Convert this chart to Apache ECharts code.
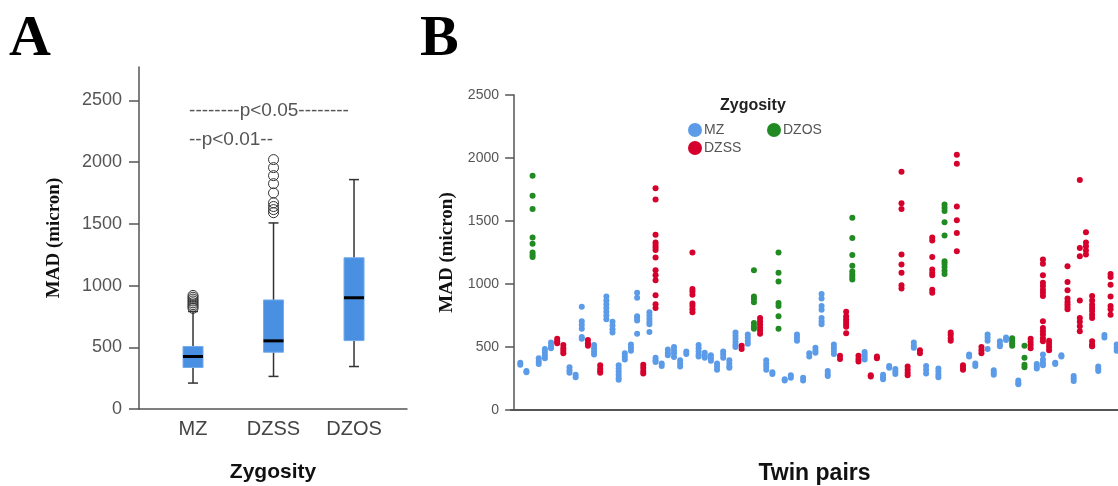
<!DOCTYPE html>
<html>
<head>
<meta charset="utf-8">
<title>MAD by zygosity</title>
<script src="https://cdn.jsdelivr.net/npm/echarts@6.0.0/dist/echarts.min.js"></script>
<style>
  html, body { margin: 0; padding: 0; background: #fff; }
  #chart { width: 1118px; height: 486px; }
</style>
</head>
<body>
<div id="chart"></div>
<script>
// panel A: box summary per zygosity group
const zygosity = ['MZ', 'DZSS', 'DZOS']
const boxMin = [210, 264, 344]
const boxQ1 = [336, 460, 554]
const boxMedian = [425, 552, 901]
const boxQ3 = [506, 883, 1225]
const boxMax = [790, 1507, 1858]
const outliersMZ = [815, 830, 845, 860, 875, 890, 905, 920]
const outliersDZSS = [1590, 1615, 1640, 1670, 1750, 1825, 1890, 1955, 2020]
const yTicksA = [0, 500, 1000, 1500, 2000, 2500]

// panel B: [twin pair index, MAD values]
const mzPairs = [
  [1, [375, 360]], [2, [310, 300]], [4, [410, 385, 365]], [5, [485, 460, 435, 410]],
  [6, [535, 510, 490]], [9, [340, 315, 295]], [10, [280, 260]],
  [11, [820, 705, 675, 645, 580, 565]], [13, [515, 490, 465, 440]],
  [15, [900, 870, 840, 810, 780, 750, 720]], [16, [700, 670, 640, 615]],
  [17, [355, 330, 305, 280, 255, 240]], [18, [450, 425, 400]], [19, [520, 495, 470]],
  [20, [930, 890, 745, 730, 710, 605]], [22, [775, 750, 725, 700, 680, 620]],
  [23, [415, 395, 380]], [24, [370, 350]], [25, [480, 455, 435]], [26, [500, 475, 450, 420]],
  [27, [395, 370, 345]], [28, [465, 445]], [30, [515, 490, 465, 440, 425]],
  [31, [455, 430, 415]], [32, [435, 410, 390]], [33, [370, 345, 320]], [34, [465, 440, 415]],
  [35, [395, 370, 345, 335]], [36, [615, 590, 565, 540, 515, 500]], [38, [600, 575, 550, 525]],
  [41, [395, 370, 345, 320]], [42, [300, 285]], [44, [245, 235]], [45, [275, 255]],
  [46, [600, 575, 550]], [47, [255, 235]], [48, [450, 425]], [49, [495, 470, 455]],
  [50, [920, 885, 825, 795, 730, 705, 680]], [51, [310, 285, 270]], [52, [520, 495, 470, 445]],
  [57, [460, 440, 420, 400]], [60, [280, 260, 245]], [61, [350, 335]], [62, [325, 305, 285]],
  [65, [535, 510, 495]], [67, [350, 320, 290]], [69, [330, 305, 280, 260]], [74, [440, 425]],
  [75, [370, 350]], [77, [600, 575, 550, 485]], [78, [315, 295, 280]], [79, [545, 520, 505]],
  [80, [575, 555]], [82, [235, 215, 205]], [85, [365, 345, 330]], [86, [440, 400, 375, 355]],
  [88, [375, 365]], [89, [435, 425]], [91, [270, 250, 230]], [94, [505]], [95, [345, 325, 310]],
  [96, [595, 575]], [98, [520, 495, 470]]
]
const dzssPairs = [
  [7, [565, 545, 530]], [8, [515, 490, 470, 450]], [12, [555, 530, 510]],
  [14, [355, 330, 310, 295]], [21, [360, 335, 310, 290]],
  [23, [1760, 1670, 1390, 1330, 1310, 1290, 1270, 1210, 1110, 1070, 1030, 910, 840, 810]],
  [29, [1250, 960, 940, 915, 845, 825, 800, 775]], [37, [510, 485]],
  [40, [730, 705, 680, 655, 630, 605]], [53, [430, 405]],
  [54, [780, 745, 720, 700, 680, 660, 610]], [56, [430, 405, 385]], [58, [275, 265]],
  [59, [425, 410]], [63, [1890, 1640, 1595, 1235, 1155, 1090, 990, 965]],
  [64, [345, 320, 295, 275]], [66, [475, 450]],
  [68, [1370, 1345, 1215, 1115, 1090, 1070, 955, 930]], [71, [615, 595, 570, 550]],
  [72, [2025, 1955, 1615, 1505, 1405, 1260]], [73, [355, 335, 320]], [76, [500, 475, 450]],
  [84, [565, 540, 515, 490]],
  [86, [1195, 1160, 1070, 1010, 985, 955, 930, 905, 705, 650, 625, 600, 570, 545]],
  [87, [550, 525, 500, 475]], [90, [1140, 1015, 950, 885, 860, 840, 820, 800]],
  [92, [1825, 1285, 1220, 870, 730, 700, 665, 625]], [93, [1410, 1330, 1300, 1265, 1235]],
  [94, [905, 870, 835, 810, 785, 755, 730, 545, 520, 505]],
  [97, [1080, 1055, 995, 900, 825, 800, 755]]
]
const dzosPairs = [
  [3, [1860, 1700, 1595, 1370, 1320, 1250, 1230, 1215]],
  [39, [1110, 900, 880, 855, 690, 665, 645]],
  [43, [1250, 1090, 1020, 850, 825, 745, 645]],
  [55, [1525, 1365, 1230, 1145, 1100, 1075, 1055, 1035]],
  [70, [1630, 1605, 1580, 1490, 1385, 1180, 1160, 1135, 1105, 1080]],
  [81, [570, 550, 530, 510]],
  [83, [510, 415, 360, 340]]
]

const sans = "'Liberation Sans', Arial, Helvetica, sans-serif"
const serif = "'Liberation Serif', 'Times New Roman', serif"
const axisGrey = '#555'

// flatten pairs into [pair, value] points
function toPoints(pairs) {
  const pts = []
  pairs.forEach(p => p[1].forEach(v => pts.push([p[0], v])))
  return pts
}

const boxData = zygosity.map((z, i) => [i + 1, boxMin[i], boxQ1[i], boxMedian[i], boxQ3[i], boxMax[i]])
const outlierData = outliersMZ.map(v => [1, v]).concat(outliersDZSS.map(v => [2, v]))

function renderBox(params, api) {
  const x = api.value(0)
  const pMin = api.coord([x, api.value(1)])
  const pQ1 = api.coord([x, api.value(2)])
  const pMed = api.coord([x, api.value(3)])
  const pQ3 = api.coord([x, api.value(4)])
  const pMax = api.coord([x, api.value(5)])
  const cx = pMin[0]
  const hw = 10
  const cw = 5
  const whisk = { stroke: '#333', lineWidth: 1.5 }
  return {
    type: 'group',
    children: [
      { type: 'line', shape: { x1: cx, y1: pMin[1], x2: cx, y2: pQ1[1] }, style: whisk },
      { type: 'line', shape: { x1: cx, y1: pQ3[1], x2: cx, y2: pMax[1] }, style: whisk },
      { type: 'line', shape: { x1: cx - cw, y1: pMin[1], x2: cx + cw, y2: pMin[1] }, style: whisk },
      { type: 'line', shape: { x1: cx - cw, y1: pMax[1], x2: cx + cw, y2: pMax[1] }, style: whisk },
      {
        type: 'rect',
        shape: { x: cx - hw, y: pQ3[1], width: hw * 2, height: pQ1[1] - pQ3[1] },
        style: { fill: '#4a90e2', stroke: '#73abec', lineWidth: 1 }
      },
      { type: 'line', shape: { x1: cx - hw, y1: pMed[1], x2: cx + hw, y2: pMed[1] }, style: { stroke: '#000', lineWidth: 3 } }
    ]
  }
}

const plainNumber = v => String(v)

const option = {
  animation: false,
  backgroundColor: '#fff',
  title: [
    { text: 'A', left: 9, top: 11, padding: 0, textStyle: { fontFamily: serif, fontWeight: 'bold', fontSize: 58, color: '#000' } },
    { text: 'B', left: 420, top: 11, padding: 0, textStyle: { fontFamily: serif, fontWeight: 'bold', fontSize: 58, color: '#000' } },
    { text: 'Zygosity', left: 720, top: 98, padding: 0, textStyle: { fontFamily: sans, fontWeight: 'bold', fontSize: 16, color: '#222' } }
  ],
  legend: [
    {
      data: ['MZ', 'DZSS'], orient: 'vertical', left: 688, top: 123, padding: 0,
      itemWidth: 14, itemHeight: 14, itemGap: 4, icon: 'circle', selectedMode: false,
      textStyle: { fontFamily: sans, fontSize: 14, color: '#555', padding: [0, 0, 0, -3] }
    },
    {
      data: ['DZOS'], orient: 'vertical', left: 767, top: 123, padding: 0,
      itemWidth: 14, itemHeight: 14, icon: 'circle', selectedMode: false,
      textStyle: { fontFamily: sans, fontSize: 14, color: '#555', padding: [0, 0, 0, -3] }
    }
  ],
  graphic: [
    {
      type: 'text', x: 269, y: 111,
      style: { text: '--------p<0.05--------', font: '19px ' + sans, fill: '#555', align: 'center', verticalAlign: 'middle', textAlign: 'center', textVerticalAlign: 'middle' }
    },
    {
      type: 'text', x: 231, y: 140,
      style: { text: '--p<0.01--', font: '19px ' + sans, fill: '#555', align: 'center', verticalAlign: 'middle', textAlign: 'center', textVerticalAlign: 'middle' }
    }
  ],
  grid: [
    { left: 139, right: 711, top: 67, bottom: 77, outerBoundsMode: 'none' },
    { left: 511, right: 0, top: 95, bottom: 76, outerBoundsMode: 'none' }
  ],
  xAxis: [
    {
      gridIndex: 0, type: 'value', min: 0.329, max: 3.658,
      axisLine: { lineStyle: { color: axisGrey, width: 1.5 } },
      axisTick: { show: false },
      splitLine: { show: false },
      axisLabel: {
        customValues: [1, 2, 3],
        formatter: v => zygosity[Math.round(v) - 1],
        fontFamily: sans, fontSize: 20, color: '#444', margin: 10
      },
      name: 'Zygosity', nameLocation: 'middle', nameGap: 53,
      nameTextStyle: { fontFamily: sans, fontWeight: 'bold', fontSize: 21, color: '#111' }
    },
    {
      gridIndex: 1, type: 'value', min: -0.51, max: 98.21,
      axisLine: { lineStyle: { color: axisGrey, width: 2 } },
      axisTick: { show: false },
      axisLabel: { show: false },
      splitLine: { show: false },
      name: 'Twin pairs', nameLocation: 'middle', nameGap: 52,
      nameTextStyle: { fontFamily: sans, fontWeight: 'bold', fontSize: 23, color: '#111' }
    }
  ],
  yAxis: [
    {
      gridIndex: 0, type: 'value', min: 0, max: 2770,
      axisLine: { show: true, lineStyle: { color: axisGrey, width: 1.5 } },
      axisTick: { show: true, length: 10, customValues: yTicksA, lineStyle: { color: axisGrey, width: 1.5 } },
      axisLabel: { customValues: yTicksA, formatter: plainNumber, fontFamily: sans, fontSize: 18, color: '#555', margin: 17 },
      splitLine: { show: false },
      name: 'MAD (micron)', nameLocation: 'middle', nameGap: 75,
      nameTextStyle: { fontFamily: serif, fontWeight: 'bold', fontSize: 19, color: '#111' }
    },
    {
      gridIndex: 1, type: 'value', min: 0, max: 2500, interval: 500,
      axisLine: { show: true, lineStyle: { color: axisGrey, width: 1.5 } },
      axisTick: { show: true, length: 9, lineStyle: { color: axisGrey, width: 1.5 } },
      axisLabel: { formatter: plainNumber, fontFamily: sans, fontSize: 14, color: '#555', margin: 12 },
      splitLine: { show: false },
      name: 'MAD (micron)', nameLocation: 'middle', nameGap: 53,
      nameTextStyle: { fontFamily: serif, fontWeight: 'bold', fontSize: 19, color: '#111' }
    }
  ],
  series: [
    {
      type: 'custom', xAxisIndex: 0, yAxisIndex: 0,
      renderItem: renderBox,
      encode: { x: 0, y: [1, 2, 3, 4, 5] },
      data: boxData
    },
    {
      name: 'outliers', type: 'scatter', xAxisIndex: 0, yAxisIndex: 0,
      symbol: 'circle', symbolSize: 10,
      itemStyle: { color: 'rgba(255,255,255,0)', borderColor: '#333', borderWidth: 1, opacity: 1 },
      data: outlierData
    },
    {
      name: 'MZ', type: 'scatter', xAxisIndex: 1, yAxisIndex: 1,
      symbolSize: 6, itemStyle: { color: '#5b9be8', opacity: 1 },
      data: toPoints(mzPairs)
    },
    {
      name: 'DZOS', type: 'scatter', xAxisIndex: 1, yAxisIndex: 1,
      symbolSize: 6, itemStyle: { color: '#228a22', opacity: 1 },
      data: toPoints(dzosPairs)
    },
    {
      name: 'DZSS', type: 'scatter', xAxisIndex: 1, yAxisIndex: 1,
      symbolSize: 6, itemStyle: { color: '#d6002c', opacity: 1 },
      data: toPoints(dzssPairs)
    }
  ]
}

const myChart = echarts.init(document.getElementById('chart'))
myChart.setOption(option)
</script>
</body>
</html>
